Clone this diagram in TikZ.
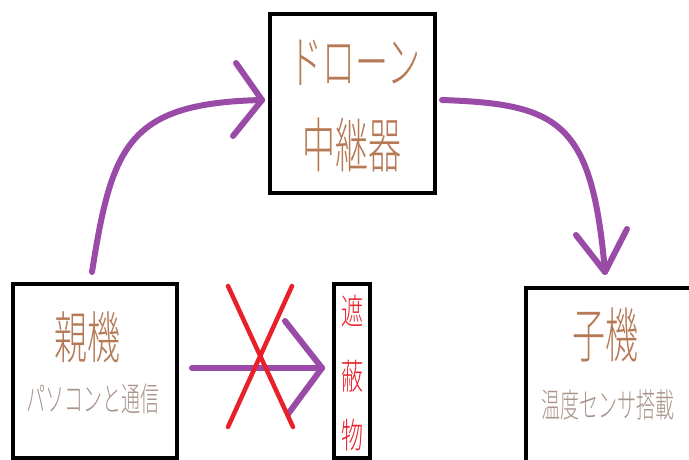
\documentclass[tikz,border=0pt]{standalone}
\usepackage{fontspec}
\usepackage{graphicx}
\newfontfamily\jp{Noto Sans CJK JP Light}
\definecolor{arrowpurple}{HTML}{9A4BA8}
\definecolor{titlebrown}{HTML}{B57A55}
\definecolor{subgray}{HTML}{A8928A}
\definecolor{xred}{HTML}{E8202A}
\newcommand{\tallt}[2]{\scalebox{1}[#1]{#2}}
\tikzset{
  box/.style={draw=black, line width=4.5pt, fill=white},
  flow/.style={draw=arrowpurple, line width=6pt, line cap=round, line join=round},
  title/.style={text=titlebrown, font=\jp\fontsize{33}{33}\selectfont, inner sep=0pt},
  sub/.style={text=subgray, font=\jp\fontsize{19}{19}\selectfont, inner sep=0pt},
  obst/.style={text=xred, font=\jp\fontsize{22}{22}\selectfont, inner sep=0pt},
  cross/.style={draw=xred, line width=4.5pt, line cap=round}
}
\begin{document}
\begin{tikzpicture}[x=1pt, y=-1pt]
\useasboundingbox (0,0) rectangle (689,459);
\fill[white] (0,0) rectangle (689,459);
% boxes
\draw[box] (270,14) rectangle (435,193);
\draw[box] (13,284) rectangle (177,458);
\draw[box] (334,284) rectangle (370,458);
\draw[box] (526,288) rectangle (694,462);
% texts
\node[title] (t1) at (355,63) {\tallt{1.75}{ドローン}};
\node[title] (t2) at (352,145) {\tallt{1.8}{中継器}};
\node[title] (p1) at (87,337) {\tallt{1.7}{親機}};
\node[sub] (p2) at (93,399) {\tallt{1.75}{パソコンと通信}};
\node[title] (c1) at (605,335) {\tallt{1.8}{子機}};
\node[sub] (c2) at (608,405) {\tallt{1.75}{温度センサ搭載}};
\node[obst] (o1) at (352,311) {\tallt{1.6}{遮}};
\node[obst] (o2) at (352,376) {\tallt{1.6}{蔽}};
\node[obst] (o3) at (352,435) {\tallt{1.6}{物}};
% arrow coordinates
\coordinate (a1s) at (92,272);
\coordinate (a1e) at (262,100);
\coordinate (a1u) at (236,63);
\coordinate (a1d) at (233,136);
\coordinate (a2s) at (442,100);
\coordinate (a2e) at (605,272);
\coordinate (a2l) at (576,235);
\coordinate (a2r) at (627,229);
\coordinate (a3s) at (192,368);
\coordinate (a3e) at (322,368);
\coordinate (a3u) at (285,321);
\coordinate (a3d) at (288,414);
% arrows
\draw[flow] (a1s) .. controls (112,145) and (128,103) .. (a1e);
\draw[flow] (a1u) -- (a1e) -- (a1d);
\draw[flow] (a2s) .. controls (560,104) and (592,122) .. (a2e);
\draw[flow] (a2l) -- (a2e) -- (a2r);
\draw[flow] (a3s) -- (a3e);
\draw[flow] (a3u) -- (a3e) -- (a3d);
% red cross
\coordinate (x1) at (228,286);
\coordinate (x2) at (293,427);
\coordinate (x3) at (292,286);
\coordinate (x4) at (228,427);
\draw[cross] (x1) -- (x2);
\draw[cross] (x3) -- (x4);
\end{tikzpicture}
\end{document}
